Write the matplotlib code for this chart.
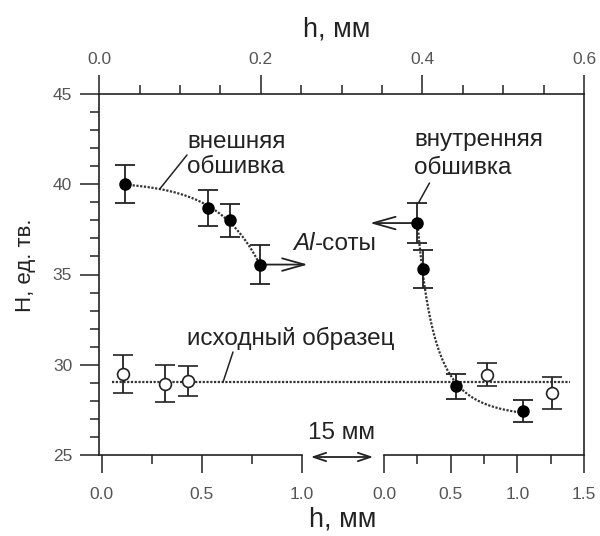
import numpy as np
import matplotlib
matplotlib.use("Agg")
import matplotlib.pyplot as plt
from matplotlib.ticker import MultipleLocator, FixedLocator, FormatStrFormatter

plt.rcParams['font.family'] = ['Liberation Sans', 'DejaVu Sans']

# ---------------- data ----------------
# outer skin (left bottom scale, h in mm)
outer_h = [0.117, 0.533, 0.64, 0.79]
outer_H = [40.0, 38.7, 38.0, 35.55]
outer_err = [1.05, 1.0, 0.92, 1.1]

# original sample, left part
orig_left_h = [0.108, 0.316, 0.433]
orig_left_H = [29.5, 28.95, 29.1]
orig_left_err = [1.05, 1.03, 0.85]

# inner skin (right bottom scale, h in mm)
inner_h = [0.25, 0.29, 0.54, 1.045]
inner_H = [37.85, 35.3, 28.8, 27.45]
inner_err = [1.1, 1.03, 0.7, 0.6]

# original sample, right part
orig_right_h = [0.77, 1.26]
orig_right_H = [29.45, 28.45]
orig_right_err = [0.65, 0.88]

baseline_H = 29.05

top_ticks = [0.0, 0.2, 0.4, 0.6]
left_ticks = [0.0, 0.5, 1.0]
right_ticks = [0.0, 0.5, 1.0, 1.5]
y_ticks = [25, 30, 35, 40, 45]

# ---------------- figure ----------------
W, H = 600, 536
fig = plt.figure(figsize=(W / 100, H / 100), dpi=100)
fig.patch.set_facecolor('white')


def rect(x0, y0, x1, y1):
    return [x0 / W, 1 - y1 / H, (x1 - x0) / W, (y1 - y0) / H]


def fpt(x, y):
    return (x / W, 1 - y / H)


INK = '#222222'
TICKC = '#555555'
SP_LW = 1.2
TICK_FS = 12.5
ANN_FS = 17.5

ax = fig.add_axes(rect(99.3, 94, 584, 455))
ax.set_xlim(0, 0.6)
ax.set_ylim(25, 45)
ax.spines['bottom'].set_visible(False)
for s in ['left', 'top', 'right']:
    ax.spines[s].set_linewidth(SP_LW)
    ax.spines[s].set_color(INK)
ax.xaxis.tick_top()
ax.xaxis.set_major_locator(FixedLocator(top_ticks))
ax.xaxis.set_minor_locator(MultipleLocator(0.05))
ax.xaxis.set_major_formatter(FormatStrFormatter('%.1f'))
ax.yaxis.set_major_locator(FixedLocator(y_ticks))
ax.yaxis.set_minor_locator(MultipleLocator(1))
ax.tick_params(axis='both', which='major', direction='out', length=13.5, width=1.1,
               color=INK, labelsize=TICK_FS, labelcolor=TICKC)
ax.tick_params(axis='both', which='minor', direction='out', length=6.2, width=1.1, color=INK)
ax.tick_params(axis='x', which='major', pad=6)
ax.tick_params(axis='y', which='major', pad=6)
ax.tick_params(axis='y', which='both', right=False)

# bottom left segment axis
axL = fig.add_axes(rect(99.3, 94, 301.7, 455))
axL.set_xlim(-0.012, 1.0)
axL.set_ylim(25, 45)
axL.patch.set_visible(False)
for s in ['left', 'top', 'right']:
    axL.spines[s].set_visible(False)
axL.spines['bottom'].set_linewidth(SP_LW)
axL.spines['bottom'].set_color(INK)
axL.set_yticks([])
axL.xaxis.set_major_locator(FixedLocator(left_ticks))
axL.xaxis.set_minor_locator(FixedLocator([0.25, 0.75]))
axL.xaxis.set_major_formatter(FormatStrFormatter('%.1f'))

# bottom right segment axis
axR = fig.add_axes(rect(384, 94, 584, 455))
axR.set_xlim(0, 1.5)
axR.set_ylim(25, 45)
axR.patch.set_visible(False)
for s in ['left', 'top', 'right']:
    axR.spines[s].set_visible(False)
axR.spines['bottom'].set_linewidth(SP_LW)
axR.spines['bottom'].set_color(INK)
axR.set_yticks([])
axR.xaxis.set_major_locator(FixedLocator(right_ticks))
axR.xaxis.set_minor_locator(FixedLocator([0.25, 0.75, 1.25]))
axR.xaxis.set_major_formatter(FormatStrFormatter('%.1f'))

for a in (axL, axR):
    a.tick_params(axis='x', which='major', direction='out', length=13, width=1.1,
                  color=INK, labelsize=TICK_FS, labelcolor=TICKC, pad=10)
    a.tick_params(axis='x', which='minor', direction='out', length=6.2, width=1.1, color=INK)

# ---------------- trend curves (least-squares fits of the data) ----------------
DOT = dict(color='#333333', lw=1.6, linestyle=(0, (1.0, 0.7)), zorder=2)

# outer skin: H = c - b*exp(k h)
oh = np.array(outer_h)
oH = np.array(outer_H)
best = None
for c in np.linspace(40.0, 41.5, 61):
    for k in np.linspace(0.5, 15.0, 146):
        e = np.exp(k * oh)
        b = np.dot(e, c - oH) / np.dot(e, e)
        sse = np.sum((c - b * e - oH) ** 2)
        if best is None or sse < best[0]:
            best = (sse, c, k, b)
_, oc, ok_, ob = best
xo = np.linspace(outer_h[0], outer_h[-1], 200)
outer_fit = lambda x: oc - ob * np.exp(ok_ * x)
axL.plot(xo, outer_fit(xo), **DOT)

# inner skin: H = c + b/(h - h0)^p
ih = np.array(inner_h)
iH = np.array(inner_H)
best = None
for c in np.linspace(25.0, 27.4, 49):
    for h0 in np.linspace(-0.3, 0.24, 109):
        for p in np.linspace(0.5, 3.0, 26):
            f = 1.0 / (ih - h0) ** p
            b = np.dot(f, iH - c) / np.dot(f, f)
            sse = np.sum((c + b * f - iH) ** 2)
            if best is None or sse < best[0]:
                best = (sse, c, h0, p, b)
_, ic, ih0, ip, ib = best
xi = np.linspace(inner_h[0], inner_h[-1], 300)
axR.plot(xi, ic + ib / (xi - ih0) ** ip, **DOT)

# baseline (original sample)
ax.axhline(baseline_H, xmin=(111.7 - 99.3) / 484.7, xmax=(570 - 99.3) / 484.7, **DOT)

# ---------------- points ----------------
EB = dict(ecolor=INK, elinewidth=1.3, capsize=7.5, capthick=1.3, zorder=4, linestyle='none')
axL.errorbar(outer_h, outer_H, yerr=outer_err, fmt='o', ms=8, mfc='black', mec='black', **EB)
axR.errorbar(inner_h, inner_H, yerr=inner_err, fmt='o', ms=8, mfc='black', mec='black', **EB)
axL.errorbar(orig_left_h, orig_left_H, yerr=orig_left_err, fmt='o', ms=8.5, mfc='white',
             mec=INK, mew=1.2, **EB)
axR.errorbar(orig_right_h, orig_right_H, yerr=orig_right_err, fmt='o', ms=8.5, mfc='white',
             mec=INK, mew=1.2, **EB)

# ---------------- arrows ----------------
ARR = dict(arrowstyle='->,head_length=16,head_width=4.5', mutation_scale=1,
           lw=1.3, color=INK, shrinkA=0, shrinkB=0)
axL.annotate('', xy=(1.03, outer_H[-1]), xytext=(outer_h[-1], outer_H[-1]),
             arrowprops=ARR, annotation_clip=False, zorder=3)
axR.annotate('', xy=(-0.105, inner_H[0]), xytext=(inner_h[0], inner_H[0]),
             arrowprops=ARR, annotation_clip=False, zorder=3)
# 15 mm gap arrow
fig.add_artist(matplotlib.patches.FancyArrowPatch(
    fpt(308, 457), fpt(376, 457), transform=fig.transFigure,
    arrowstyle='<->,head_length=9,head_width=3', mutation_scale=1, lw=1.3, color=INK))

# ---------------- leader lines ----------------
LEAD = dict(arrowstyle='-', lw=1.1, color=INK, shrinkA=0, shrinkB=0)
axL.annotate('', xy=(0.29, float(outer_fit(0.29))), xytext=(187, H - 155),
             textcoords='figure pixels', arrowprops=LEAD)
axR.annotate('', xy=(0.257, inner_H[0] + inner_err[0]), xytext=(429.5, H - 183),
             textcoords='figure pixels', arrowprops=LEAD)
axL.annotate('', xy=(0.607, baseline_H), xytext=(233, H - 352),
             textcoords='figure pixels', arrowprops=LEAD)

# ---------------- texts ----------------
TXT = dict(fontsize=ANN_FS, color=INK, va='center', ha='left')
fig.text(*fpt(187, 142), 'внешняя', **TXT)
fig.text(*fpt(187, 167), 'обшивка', **TXT)
fig.text(*fpt(414, 140), 'внутренняя', **TXT)
fig.text(*fpt(414, 168), 'обшивка', **TXT)
fig.text(*fpt(187, 338), 'исходный образец', **TXT)
fig.text(*fpt(342, 433), '15 мм', fontsize=ANN_FS, color=INK, va='center', ha='center')
t_al = fig.text(*fpt(293, 244), 'Al', fontsize=ANN_FS, color=INK, va='center', ha='left',
                style='italic')
fig.add_artist(matplotlib.text.Annotation('-соты', xy=(1, 0), xycoords=t_al,
                                          va='bottom', ha='left', fontsize=ANN_FS, color=INK))

fig.text(*fpt(337, 30), 'h, мм', fontsize=19.5, color=INK, va='center', ha='center')
fig.text(*fpt(343, 520), 'h, мм', fontsize=19.5, color=INK, va='center', ha='center')
fig.text(*fpt(25, 265), 'Н, ед. тв.', fontsize=16, color=INK, va='center', ha='center',
         rotation=90)

fig.savefig('out.png', dpi=100, facecolor='white')
